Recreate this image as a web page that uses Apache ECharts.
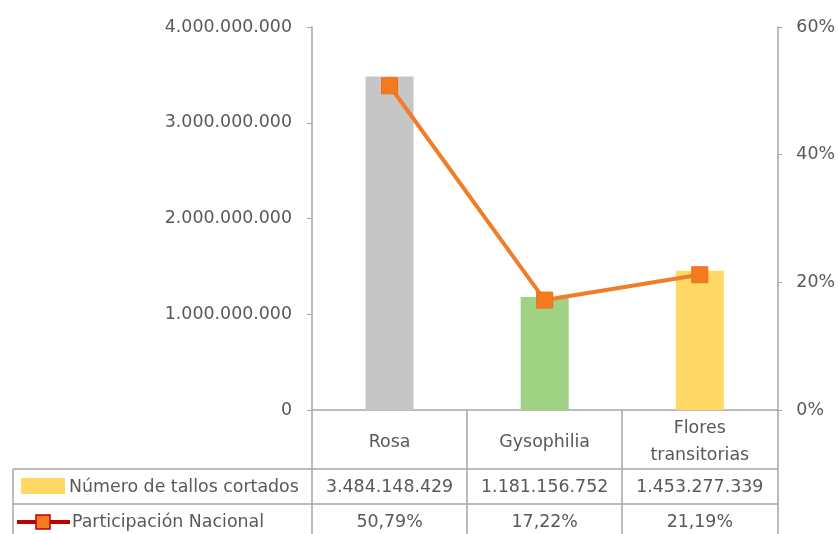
<!DOCTYPE html>
<html>
<head>
<meta charset="utf-8">
<script src="https://cdn.jsdelivr.net/npm/echarts@6/dist/echarts.min.js"></script>
<style>
  html, body { margin: 0; padding: 0; background: #fff; }
  #chart { width: 838px; height: 534px; }
</style>
</head>
<body>
<div id="chart"></div>
<script>
// Flower production by type: stems cut and national share
const categories = ['Rosa', 'Gysophilia', 'Flores\ntransitorias'];
const stems = [3484148429, 1181156752, 1453277339];
const share = [50.79, 17.22, 21.19];
const barColors = ['#c6c6c6', '#9fd282', '#ffd865'];
const stemsName = 'Número de tallos cortados';
const shareName = 'Participación Nacional';

const FONT = 'DejaVu Sans';
const FS = 17.4;
const TXT = '#595959';
const GRID_LINE = '#a6a6a6';

function fmtThousands(n) {
  return String(Math.round(n)).replace(/\B(?=(\d{3})+(?!\d))/g, '.');
}
function fmtPct(v) {
  return v.toFixed(2).replace('.', ',') + '%';
}

const chart = echarts.init(document.getElementById('chart'));

chart.setOption({
  animation: false,
  textStyle: { fontFamily: FONT },
  grid: { left: 312, right: 60, top: 27, bottom: 124, containLabel: false },
  xAxis: {
    type: 'category',
    data: categories,
    axisLine: { show: true, lineStyle: { color: GRID_LINE, width: 1.5 } },
    axisTick: { show: true, length: 124, lineStyle: { color: GRID_LINE, width: 1.5 } },
    axisLabel: { color: TXT, fontSize: FS, fontFamily: FONT, margin: 32, lineHeight: 27,
                 verticalAlign: 'middle' }
  },
  yAxis: [
    {
      type: 'value',
      min: 0, max: 4000000000, interval: 1000000000,
      splitLine: { show: false },
      axisLine: { show: true, lineStyle: { color: GRID_LINE, width: 1.5 } },
      axisTick: { show: true, length: 5, lineStyle: { color: GRID_LINE } },
      axisLabel: { color: TXT, fontSize: FS, fontFamily: FONT, margin: 20,
                   formatter: v => fmtThousands(v) }
    },
    {
      type: 'value',
      min: 0, max: 60, interval: 20,
      position: 'right',
      splitLine: { show: false },
      axisLine: { show: true, lineStyle: { color: GRID_LINE, width: 1.5 } },
      axisTick: { show: true, length: 5, lineStyle: { color: GRID_LINE } },
      axisLabel: { color: TXT, fontSize: FS, fontFamily: FONT, margin: 19,
                   formatter: v => v + '%' }
    }
  ],
  series: [
    {
      name: stemsName,
      type: 'bar',
      barWidth: 48,
      data: stems.map((v, i) => ({ value: v, itemStyle: { color: barColors[i] } }))
    },
    {
      name: shareName,
      type: 'line',
      yAxisIndex: 1,
      data: share,
      symbol: 'rect',
      symbolSize: 16,
      lineStyle: { color: '#f07d28', width: 4 },
      itemStyle: { color: '#f47a20', borderColor: '#ec6e16', borderWidth: 1 },
      z: 5
    }
  ]
});

// Data table under the plot, aligned to the category columns
function drawTable() {
  const gridRight = 838 - 60;
  const tableLeft = 13;
  const row1Top = 469, row2Top = 504, bottom = 534;
  const row1Mid = (row1Top + row2Top) / 2 + 1;
  const row2Mid = (row2Top + bottom) / 2 + 3;
  const lineStyle = { stroke: GRID_LINE, lineWidth: 1.5 };
  const font = FS + 'px "' + FONT + '"';
  const els = [];

  // horizontal row rules
  [row1Top, row2Top].forEach(y => {
    els.push({ type: 'line', shape: { x1: tableLeft, y1: y, x2: gridRight, y2: y }, style: lineStyle, silent: true });
  });
  // left border of the series-name column
  els.push({ type: 'line', shape: { x1: tableLeft, y1: row1Top, x2: tableLeft, y2: bottom }, style: lineStyle });

  // values per category
  categories.forEach((c, i) => {
    const x = chart.convertToPixel({ xAxisIndex: 0 }, i);
    els.push({ type: 'text', x: x, y: row1Mid,
      style: { text: fmtThousands(stems[i]), fill: TXT, font: font, align: 'center', verticalAlign: 'middle' } });
    els.push({ type: 'text', x: x, y: row2Mid,
      style: { text: fmtPct(share[i]), fill: TXT, font: font, align: 'center', verticalAlign: 'middle' } });
  });

  // legend keys and series names
  els.push({ type: 'rect', shape: { x: 21, y: 478, width: 44, height: 16 }, style: { fill: '#ffd865' } });
  els.push({ type: 'text', x: 69, y: row1Mid,
    style: { text: stemsName, fill: TXT, font: font, align: 'left', verticalAlign: 'middle' } });
  els.push({ type: 'line', shape: { x1: 17, y1: row2Mid, x2: 70, y2: row2Mid }, style: { stroke: '#c00000', lineWidth: 4 } });
  els.push({ type: 'rect', shape: { x: 36, y: row2Mid - 7, width: 14, height: 14 }, style: { fill: '#f47a20', stroke: '#c00000', lineWidth: 1.5 } });
  els.push({ type: 'text', x: 72, y: row2Mid,
    style: { text: shareName, fill: TXT, font: font, align: 'left', verticalAlign: 'middle' } });

  chart.setOption({ graphic: els });
}
drawTable();
</script>
</body>
</html>
